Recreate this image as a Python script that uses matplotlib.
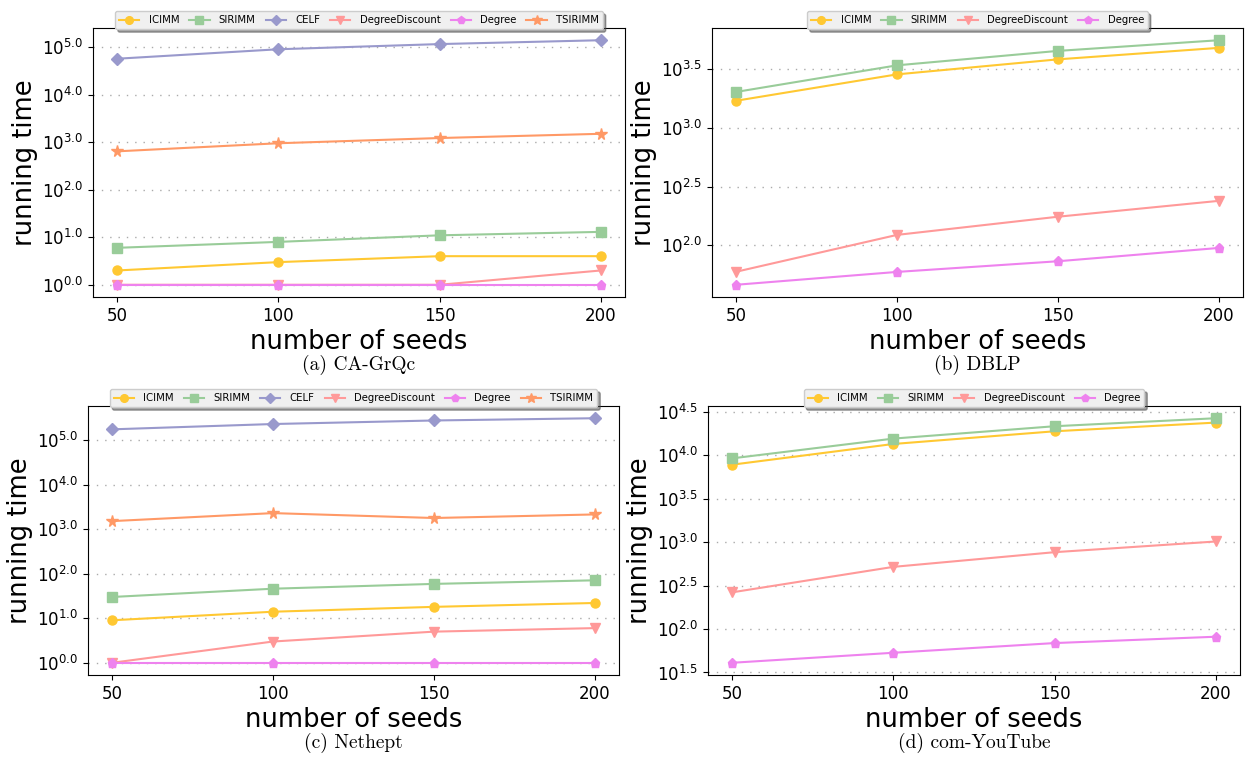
import numpy as np
import matplotlib
matplotlib.use("Agg")
import matplotlib.pyplot as plt
from matplotlib.ticker import FuncFormatter, MultipleLocator

seeds = [50, 100, 150, 200]

# running time (s)
grqc_icimm = [2, 3, 4, 4]
grqc_sirimm = [6, 8, 11, 13]
grqc_celf = [57500, 91000, 117000, 141000]
grqc_dd = [1, 1, 1, 2]
grqc_degree = [1, 1, 1, 1]
grqc_tsirimm = [645, 955, 1230, 1510]

dblp_icimm = [1706, 2864, 3846, 4819]
dblp_sirimm = [2028, 3420, 4540, 5598]
dblp_dd = [59.4, 122.5, 175, 239]
dblp_degree = [46, 59.2, 73, 94.8]

nethept_icimm = [9, 14, 18, 22]
nethept_sirimm = [30, 46, 59, 71]
nethept_celf = [174000, 229000, 275000, 309000]
nethept_dd = [1, 3, 5, 6]
nethept_degree = [1, 1, 1, 1]
nethept_tsirimm = [1514, 2290, 1778, 2138]

yt_icimm = [7745, 13400, 18750, 23600]
yt_sirimm = [9160, 15450, 21430, 26490]
yt_dd = [264, 518, 764, 1014]
yt_degree = [40.9, 53.3, 68.9, 81.5]

styles = {
    "ICIMM": ("#FFC832", "o"),
    "SIRIMM": ("#99CC99", "s"),
    "CELF": ("#9999CC", "D"),
    "DegreeDiscount": ("#FF9999", "v"),
    "Degree": ("#EE82EE", "p"),
    "TSIRIMM": ("#FF9966", "*"),
}

panels = [
    ("(a) CA-GrQc", [93, 28, 625, 297], 1.0,
     [("ICIMM", grqc_icimm), ("SIRIMM", grqc_sirimm), ("CELF", grqc_celf),
      ("DegreeDiscount", grqc_dd), ("Degree", grqc_degree), ("TSIRIMM", grqc_tsirimm)]),
    ("(b) DBLP", [712, 28, 1243, 297], 0.5,
     [("ICIMM", dblp_icimm), ("SIRIMM", dblp_sirimm),
      ("DegreeDiscount", dblp_dd), ("Degree", dblp_degree)]),
    ("(c) Nethept", [88, 406, 619, 675], 1.0,
     [("ICIMM", nethept_icimm), ("SIRIMM", nethept_sirimm), ("CELF", nethept_celf),
      ("DegreeDiscount", nethept_dd), ("Degree", nethept_degree), ("TSIRIMM", nethept_tsirimm)]),
    ("(d) com-YouTube", [708, 406, 1240, 675], 0.5,
     [("ICIMM", yt_icimm), ("SIRIMM", yt_sirimm),
      ("DegreeDiscount", yt_dd), ("Degree", yt_degree)]),
]

W, H = 1247, 758
fig = plt.figure(figsize=(W / 100, H / 100), dpi=100)

for caption, (x0, y0, x1, y1), step, series in panels:
    ax = fig.add_axes([x0 / W, 1 - y1 / H, (x1 - x0) / W, (y1 - y0) / H])
    for name, vals in series:
        c, m = styles[name]
        ms = 8.5 if m == "*" else 6.5
        ax.plot(seeds, np.log10(vals), color=c, marker=m, markersize=ms,
                linewidth=1.5, label=name)
    ax.yaxis.set_major_locator(MultipleLocator(step))
    ax.yaxis.set_major_formatter(FuncFormatter(lambda v, p: r"$10^{%.1f}$" % v))
    ax.set_xticks(seeds)
    ax.tick_params(labelsize=12)
    ax.grid(axis="y", linestyle=(0, (1, 5)), color="#aaaaaa", linewidth=1)
    ax.set_xlabel("number of seeds", fontsize=18.5, labelpad=3)
    ax.set_ylabel("running time", fontsize=18.5, labelpad=3)
    ax.legend(loc="lower center", bbox_to_anchor=(0.5, 0.995), ncol=len(series),
              fontsize=7.3, shadow=True, fancybox=True, facecolor="#f0f0f0",
              framealpha=1, handlelength=2, handletextpad=0.9, columnspacing=1.0,
              markerscale=0.85, borderpad=0.4, borderaxespad=0)
    cx = (x0 + x1) / 2 / W
    fig.text(cx, 1 - (y1 + 68) / H, caption, ha="center", va="center",
             fontsize=14, family="cmr10")

fig.savefig("out.png", dpi=100)
